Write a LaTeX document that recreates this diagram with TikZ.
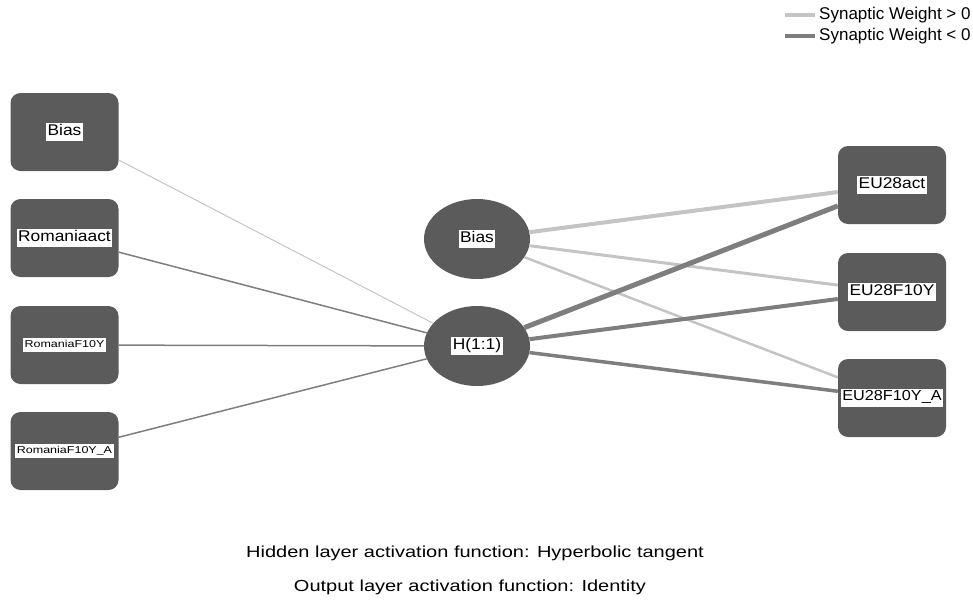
\documentclass[tikz,border=0pt]{standalone}
\usepackage{fontspec}
\setmainfont{Liberation Sans}
\newfontfamily\widefont{Liberation Sans}[FakeStretch=1.25]
\newfontfamily\labfont{Liberation Sans}[FakeStretch=1.12]
\usetikzlibrary{shapes.geometric}
\definecolor{nodegray}{HTML}{5B5B5B}
\definecolor{poscol}{HTML}{C4C4C4}
\definecolor{negcol}{HTML}{7E7E7E}
\newcommand\wlab[1]{{\setlength\fboxsep{1.5pt}\colorbox{white}{\strut #1}}}
\tikzset{
  sqnode/.style={fill=nodegray, draw=none, rounded corners=10pt, minimum width=108pt, minimum height=78pt, inner sep=0pt},
  ellnode/.style={ellipse, fill=nodegray, draw=none, minimum width=106pt, minimum height=80pt, inner sep=0pt},
  biglab/.style={font=\labfont\fontsize{15.5}{15.5}\selectfont},
  smalllab/.style={font=\widefont\fontsize{10}{10}\selectfont},
  poswt/.style={draw=poscol},
  negwt/.style={draw=negcol},
}
\begin{document}
\begin{tikzpicture}[x=1pt,y=-1pt]
\useasboundingbox (0,0) rectangle (973,600);
% input layer
\node[sqnode, biglab] (i0) at (64.5,132) {\wlab{Bias}};
\node[sqnode, biglab] (i1) at (64.5,238) {\wlab{Romaniaact}};
\node[sqnode, smalllab] (i2) at (64.5,345) {\wlab{RomaniaF10Y}};
\node[sqnode, smalllab] (i3) at (64.5,451) {\wlab{RomaniaF10Y\_A}};
% hidden layer
\node[ellnode, biglab] (hb) at (477,239) {\wlab{Bias}};
\node[ellnode, biglab] (h1) at (477,346) {\wlab{H(1:1)}};
% output layer
\node[sqnode, biglab] (o1) at (892,185) {\wlab{EU28act}};
\node[sqnode, biglab] (o2) at (892,292) {\wlab{EU28F10Y}};
\node[sqnode, font=\labfont\fontsize{14.5}{14.5}\selectfont] (o3) at (892,398) {\wlab{EU28F10Y\_A}};
% connections input -> hidden
\draw[poswt, line width=1pt] (i0) -- (h1);
\draw[negwt, line width=1.5pt] (i1) -- (h1);
\draw[negwt, line width=1.5pt] (i2) -- (h1);
\draw[negwt, line width=1.5pt] (i3) -- (h1);
% connections hidden -> output
\draw[poswt, line width=4pt] (hb) -- (o1);
\draw[poswt, line width=3pt] (hb) -- (o2);
\draw[poswt, line width=2.5pt] (hb) -- (o3);
\draw[negwt, line width=5pt] (h1) -- (o1);
\draw[negwt, line width=4pt] (h1) -- (o2);
\draw[negwt, line width=3.5pt] (h1) -- (o3);
% legend
\coordinate (l1a) at (785,15);
\coordinate (l1b) at (815,15);
\coordinate (l2a) at (785,36);
\coordinate (l2b) at (815,36);
\draw[poswt, line width=4pt] (l1a) -- (l1b);
\draw[negwt, line width=4pt] (l2a) -- (l2b);
\node[anchor=west, inner sep=0pt, font=\fontsize{17}{17}\selectfont] (lt1) at (819,15) {Synaptic Weight > 0};
\node[anchor=west, inner sep=0pt, font=\fontsize{17}{17}\selectfont] (lt2) at (819,36) {Synaptic Weight < 0};
% footer
\node[font=\widefont\fontsize{16}{16}\selectfont] (f1) at (475,553) {Hidden layer activation function: Hyperbolic tangent};
\node[font=\widefont\fontsize{16}{16}\selectfont] (f2) at (470,587) {Output layer activation function: Identity};
\end{tikzpicture}
\end{document}
